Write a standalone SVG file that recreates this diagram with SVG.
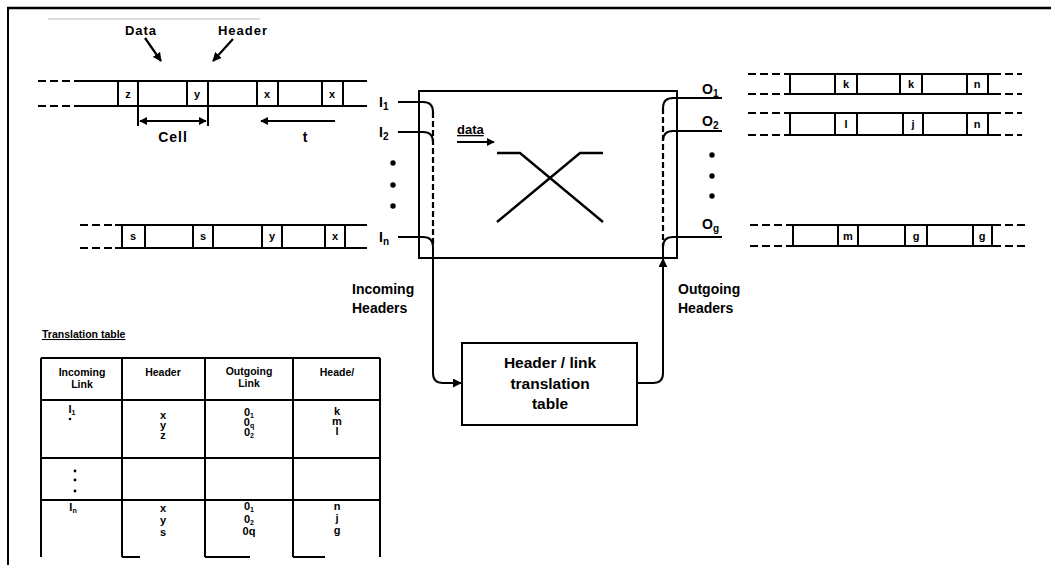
<svg xmlns="http://www.w3.org/2000/svg" width="1051" height="565" viewBox="0 0 1051 565">
<style>
text{font-family:"Liberation Sans",Arial,sans-serif;font-weight:bold;fill:#000}
.ln{stroke:#000;stroke-width:2;fill:none}
.th{stroke:#000;stroke-width:1.8;fill:none}
.ds{stroke:#000;stroke-width:2;fill:none;stroke-dasharray:8 4}
.dv{stroke:#000;stroke-width:2.2;fill:none;stroke-dasharray:6 3}
.cl{font-size:11px;text-anchor:middle}
.lb{font-size:14px}
.tb{font-size:10.5px;text-anchor:middle}
.tv{font-size:11px;text-anchor:middle}
.sub{font-size:10px}
</style>
<defs>
<marker id="ah" viewBox="0 0 10 10" refX="9" refY="5" markerWidth="9" markerHeight="9" markerUnits="userSpaceOnUse" orient="auto"><path d="M0,0 L10,5 L0,10 z" fill="#000"/></marker>
<marker id="ahs" viewBox="0 0 10 10" refX="9" refY="5" markerWidth="8" markerHeight="8" markerUnits="userSpaceOnUse" orient="auto-start-reverse"><path d="M0,0 L10,5 L0,10 z" fill="#000"/></marker>
</defs>
<rect width="1051" height="565" fill="#fff"/>
<g id="frame">
<line x1="7" y1="8" x2="1051" y2="8" stroke="#000" stroke-width="2.5"/>
<line x1="8" y1="7" x2="8" y2="565" stroke="#000" stroke-width="2"/>
<line x1="48" y1="19" x2="260" y2="19" stroke="#aaa" stroke-width="0.8"/>
</g>
<g id="labels-top">
<text x="141" y="35" font-size="13" text-anchor="middle" letter-spacing="1">Data</text>
<text x="243" y="35" font-size="13" text-anchor="middle" letter-spacing="1">Header</text>
</g>
<g id="incoming-row-1">
<line class="ds" x1="38" y1="81" x2="75" y2="81"/>
<line class="ds" x1="38" y1="106" x2="75" y2="106"/>
<line class="ln" x1="75" y1="81" x2="367" y2="81"/>
<line class="ln" x1="75" y1="106" x2="367" y2="106"/>
<path class="ln" d="M118,81V106M138,81V106M187,81V106M208,81V106M257,81V106M278,81V106M322,81V106M343,81V106"/>
<text class="cl" x="128" y="98">z</text>
<text class="cl" x="197" y="98">y</text>
<text class="cl" x="267" y="98">x</text>
<text class="cl" x="332" y="98">x</text>
</g>
<g id="cell-dimension">
<path class="ln" d="M138,106V126M208,106V126"/>
<line class="th" x1="140" y1="121" x2="206" y2="121" marker-start="url(#ahs)" marker-end="url(#ahs)"/>
<text x="173" y="142" font-size="14" text-anchor="middle" letter-spacing="1">Cell</text>
<line class="th" x1="335" y1="121" x2="261" y2="121" marker-end="url(#ahs)"/>
<text x="305" y="142" font-size="14" text-anchor="middle">t</text>
</g>
<g id="incoming-row-n">
<line class="ds" x1="80" y1="225" x2="115" y2="225"/>
<line class="ds" x1="80" y1="248" x2="115" y2="248"/>
<line class="ln" x1="115" y1="225" x2="367" y2="225"/>
<line class="ln" x1="115" y1="248" x2="367" y2="248"/>
<path class="ln" d="M122,225V248M145,225V248M193,225V248M213,225V248M262,225V248M282,225V248M325,225V248M345,225V248"/>
<text class="cl" x="133" y="240">s</text>
<text class="cl" x="203" y="240">s</text>
<text class="cl" x="272" y="240">y</text>
<text class="cl" x="335" y="240">x</text>
</g>
<g id="switch">
<rect class="ln" x="419" y="91" width="258" height="167"/>
<text x="457" y="134" font-size="13" text-decoration="underline">data</text>
<line class="th" x1="457" y1="142" x2="494" y2="142" marker-end="url(#ahs)"/>
<path d="M497,153H520L603,222M497,222L580,153H603" stroke="#000" stroke-width="2.4" fill="none"/>
</g>
<g id="input-labels">
<text class="lb" x="379" y="107">I<tspan class="sub" dy="3">1</tspan></text>
<text class="lb" x="379" y="137">I<tspan class="sub" dy="3">2</tspan></text>
<text class="lb" x="379" y="242">I<tspan class="sub" dy="3">n</tspan></text>
<circle cx="393" cy="163" r="2.7"/>
<circle cx="393" cy="185" r="2.7"/>
<circle cx="393" cy="206" r="2.7"/>
</g>
<g id="output-labels">
<text class="lb" x="702" y="94">O<tspan class="sub" dy="3">1</tspan></text>
<text class="lb" x="702" y="126">O<tspan class="sub" dy="3">2</tspan></text>
<text class="lb" x="702" y="229">O<tspan class="sub" dy="3">g</tspan></text>
<circle cx="712" cy="155" r="2.7"/>
<circle cx="712" cy="176" r="2.7"/>
<circle cx="712" cy="196" r="2.7"/>
</g>
<g id="outgoing-row-1">
<line class="ds" x1="748" y1="74" x2="790" y2="74"/>
<line class="ds" x1="748" y1="94" x2="790" y2="94"/>
<line class="ln" x1="790" y1="74" x2="993" y2="74"/>
<line class="ln" x1="790" y1="94" x2="993" y2="94"/>
<line class="ds" x1="993" y1="74" x2="1022" y2="74"/>
<line class="ds" x1="993" y1="94" x2="1022" y2="94"/>
<path class="ln" d="M790,74V94M835,74V94M857,74V94M900,74V94M922,74V94M967,74V94M988,74V94"/>
<text class="cl" x="846" y="88">k</text>
<text class="cl" x="911" y="88">k</text>
<text class="cl" x="977" y="88">n</text>
</g>
<g id="outgoing-row-2">
<line class="ds" x1="748" y1="113" x2="790" y2="113"/>
<line class="ds" x1="748" y1="135" x2="790" y2="135"/>
<line class="ln" x1="790" y1="113" x2="993" y2="113"/>
<line class="ln" x1="790" y1="135" x2="993" y2="135"/>
<line class="ds" x1="993" y1="113" x2="1022" y2="113"/>
<line class="ds" x1="993" y1="135" x2="1022" y2="135"/>
<path class="ln" d="M790,113V135M835,113V135M857,113V135M903,113V135M923,113V135M967,113V135M988,113V135"/>
<text class="cl" x="846" y="128">l</text>
<text class="cl" x="913" y="128">j</text>
<text class="cl" x="977" y="128">n</text>
</g>
<g id="outgoing-row-g">
<line class="ds" x1="750" y1="225" x2="793" y2="225"/>
<line class="ds" x1="750" y1="246" x2="793" y2="246"/>
<line class="ln" x1="793" y1="225" x2="993" y2="225"/>
<line class="ln" x1="793" y1="246" x2="993" y2="246"/>
<line class="ds" x1="993" y1="225" x2="1028" y2="225"/>
<line class="ds" x1="993" y1="246" x2="1028" y2="246"/>
<path class="ln" d="M793,225V246M838,225V246M858,225V246M905,225V246M927,225V246M973,225V246M992,225V246"/>
<text class="cl" x="848" y="240">m</text>
<text class="cl" x="916" y="240">g</text>
<text class="cl" x="982" y="240">g</text>
</g>
<g id="translation-box">
<rect class="ln" x="462" y="343" width="175" height="82"/>
<text x="550" y="368" font-size="15.5" text-anchor="middle">Header / link</text>
<text x="550" y="389" font-size="15.5" text-anchor="middle">translation</text>
<text x="550" y="409" font-size="15.5" text-anchor="middle">table</text>
</g>
<g id="header-labels">
<text class="lb" x="352" y="294">Incoming</text>
<text class="lb" x="352" y="313">Headers</text>
<text class="lb" x="678" y="294">Outgoing</text>
<text class="lb" x="678" y="313">Headers</text>
</g>
<g id="connectors">
<path class="ln" d="M398,102H423Q433,102 433,112"/>
<path class="ln" d="M398,132H423Q433,132 433,142"/>
<line class="dv" x1="433" y1="112" x2="433" y2="247"/>
<path class="ln" d="M398,237H423Q433,237 433,247V373Q433,383 443,383H461" marker-end="url(#ah)"/>
<path class="ln" d="M722,98H673Q663,98 663,108"/>
<path class="ln" d="M722,131H673Q663,131 663,141"/>
<line class="dv" x1="663" y1="108" x2="663" y2="247"/>
<path class="ln" d="M722,237H673Q663,237 663,247V258"/>
<path class="ln" d="M637,383H653Q663,383 663,373V259" marker-end="url(#ah)"/>
</g>
<g id="table">
<text x="42" y="338" font-size="10.5" text-decoration="underline">Translation table</text>
<path class="ln" d="M41,358H380M41,400H380M41,458H380M41,500H380"/>
<path class="ln" d="M41,358V557M122,358V557M205,358V557M293,358V557M380,358V557"/>
<path class="th" d="M122,557H140M205,557H250M293,557H325"/>
<text class="tb" x="82" y="376">Incoming</text>
<text class="tb" x="82" y="388">Link</text>
<text class="tb" x="163" y="376">Header</text>
<text class="tb" x="249" y="375">Outgoing</text>
<text class="tb" x="249" y="387">Link</text>
<text class="tb" x="337" y="376">Heade/</text>
<text class="tv" x="72" y="413">I<tspan font-size="7" dy="2">1</tspan></text>
<circle cx="70" cy="419" r="1.3"/>
<text class="tv" x="163" y="419">x</text>
<text class="tv" x="163" y="429">y</text>
<text class="tv" x="163" y="439">z</text>
<text class="tv" x="249" y="416">0<tspan font-size="7" dy="2">1</tspan></text>
<text class="tv" x="249" y="426">0<tspan font-size="7" dy="2">q</tspan></text>
<text class="tv" x="249" y="436">0<tspan font-size="7" dy="2">2</tspan></text>
<text class="tv" x="337" y="415">k</text>
<text class="tv" x="337" y="425">m</text>
<text class="tv" x="337" y="435">l</text>
<circle cx="75" cy="471" r="1.4"/>
<circle cx="75" cy="480" r="1.4"/>
<circle cx="75" cy="491" r="1.4"/>
<text class="tv" x="73" y="511">I<tspan font-size="7" dy="2">n</tspan></text>
<text class="tv" x="163" y="512">x</text>
<text class="tv" x="163" y="524">y</text>
<text class="tv" x="163" y="536">s</text>
<text class="tv" x="249" y="510">0<tspan font-size="7" dy="2">1</tspan></text>
<text class="tv" x="249" y="523">0<tspan font-size="7" dy="2">2</tspan></text>
<text class="tv" x="249" y="535">0q</text>
<text class="tv" x="337" y="510">n</text>
<text class="tv" x="337" y="522">j</text>
<text class="tv" x="337" y="534">g</text>
</g>
<g id="pointer-arrows">
<line x1="145" y1="38" x2="161" y2="61" stroke="#000" stroke-width="2.2" marker-end="url(#ah)"/>
<line x1="233" y1="39" x2="213" y2="61" stroke="#000" stroke-width="2.2" marker-end="url(#ah)"/>
</g>
</svg>
